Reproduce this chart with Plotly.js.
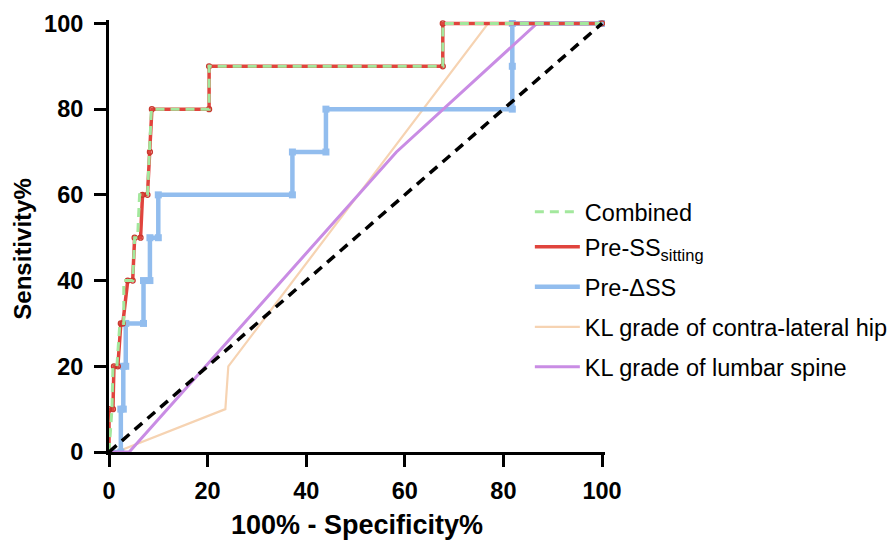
<!DOCTYPE html>
<html>
<head>
<meta charset="utf-8">
<script src="https://cdn.plot.ly/plotly-3.0.1.min.js"></script>
<style>
  html, body { margin: 0; padding: 0; background: #ffffff; }
  #chart { width: 892px; height: 543px; }
</style>
</head>
<body>
<div id="chart"></div>
<script>
// ROC curves: x = 100% - Specificity%, y = Sensitivity%
const combinedX = [0, 0.6, 0.8, 1.6, 2.2, 3.0, 3.0, 4.8, 5.2, 5.8, 6.2, 7.8, 8.2, 8.6, 20.3, 20.3, 67.7, 67.7, 100];
const combinedY = [0, 10, 20, 20, 30, 30, 40, 40, 50, 50, 60, 60, 70, 80, 80, 90, 90, 100, 100];

const sittingX = [0, 0, 0.8, 1.0, 1.8, 2.4, 2.8, 3.8, 4.8, 5.2, 6.4, 6.8, 7.8, 8.3, 8.7, 20.3, 20.3, 67.7, 67.7, 100];
const sittingY = [0, 10, 10, 20, 20, 30, 30, 40, 40, 50, 50, 60, 60, 70, 80, 80, 90, 90, 100, 100];

const deltaX = [0, 2.4, 2.4, 2.9, 2.9, 3.4, 3.4, 7.0, 7.0, 8.3, 8.3, 10.0, 10.0, 37.2, 37.2, 44.0, 44.0, 81.8, 81.8, 81.8, 100];
const deltaY = [0, 0, 10, 10, 20, 20, 30, 30, 40, 40, 50, 50, 60, 60, 70, 70, 80, 80, 90, 100, 100];

const hipX = [0, 1.5, 23.6, 24.2, 76.9, 100];
const hipY = [0, 0, 10, 20, 100, 100];

const lumbarX = [0, 4.1, 58.3, 86.8, 100];
const lumbarY = [0, 0, 70, 100, 100];

const refX = [0, 100];
const refY = [0, 100];

const tickVals = [0, 20, 40, 60, 80, 100];
const tickText = ['0', '20', '40', '60', '80', '100'];

const names = {
  combined: 'Combined',
  sitting: 'Pre-SS<sub>sitting</sub>',
  delta: 'Pre-\u0394SS',
  hip: 'KL grade of contra-lateral hip',
  lumbar: 'KL grade of lumbar spine'
};

const C = {
  combined: '#a3e89d',
  sitting: '#e0443d',
  delta: '#92bdee',
  hip: '#f6d3b2',
  lumbar: '#c98ce4'
};

const FONT = 'Liberation Sans, Arial, sans-serif';

const traces = [
  { x: hipX, y: hipY, name: names.hip, legend: 'legend4',
    mode: 'lines', line: { color: C.hip, width: 2.2 } },
  { x: deltaX, y: deltaY, name: names.delta, legend: 'legend3',
    mode: 'lines', line: { color: C.delta, width: 4.5 } },
  { x: deltaX, y: deltaY, showlegend: false, hoverinfo: 'skip',
    mode: 'markers', marker: { symbol: 'square', size: 7, color: C.delta } },
  { x: lumbarX, y: lumbarY, name: names.lumbar, legend: 'legend5',
    mode: 'lines', line: { color: C.lumbar, width: 3 } },
  { x: sittingX, y: sittingY, name: names.sitting, legend: 'legend2',
    mode: 'lines', line: { color: C.sitting, width: 3.5 } },
  { x: sittingX, y: sittingY, showlegend: false, hoverinfo: 'skip',
    mode: 'markers', marker: { symbol: 'circle-open', size: 5, color: '#c8392f', line: { width: 1.3 } } },
  { x: combinedX, y: combinedY, name: names.combined, legend: 'legend',
    mode: 'lines', line: { color: C.combined, width: 3, dash: '9px,6px' } },
  { x: refX, y: refY, showlegend: false, hoverinfo: 'skip',
    mode: 'lines', line: { color: '#000000', width: 3.5, dash: '10px,7px' } }
];

// one legend box per entry, stacked at fixed heights
function legendAt(centerPx) {
  return {
    xref: 'container', yref: 'container',
    x: 0.594, xanchor: 'left',
    y: 1 - centerPx / 543, yanchor: 'middle',
    bgcolor: 'rgba(0,0,0,0)',
    font: { family: FONT, size: 23.5, color: '#000000' },
    itemwidth: 45
  };
}

const axisFont = { family: FONT, size: 23.5, color: '#000000', weight: 'bold' };

const layout = {
  width: 892,
  height: 543,
  paper_bgcolor: '#ffffff',
  plot_bgcolor: '#ffffff',
  margin: { l: 109, r: 287, t: 20, b: 91, autoexpand: false },
  showlegend: true,
  legend: legendAt(212),
  legend2: legendAt(247),
  legend3: legendAt(287),
  legend4: legendAt(327),
  legend5: legendAt(367),
  annotations: [
    { text: 'Sensitivity%', textangle: -90, xref: 'paper', yref: 'paper',
      x: -0.174, y: 0.47, xanchor: 'center', yanchor: 'middle', showarrow: false,
      font: { family: FONT, size: 24, color: '#000000', weight: 'bold' } }
  ],
  xaxis: {
    range: [0, 100.6],
    tickvals: tickVals,
    ticktext: tickText,
    showgrid: false,
    zeroline: false,
    showline: true,
    linecolor: '#000000',
    linewidth: 3,
    ticks: 'outside',
    ticklen: 12,
    tickwidth: 3,
    tickcolor: '#000000',
    ticklabelstandoff: 4,
    tickfont: axisFont,
    automargin: false,
    title: { text: '100% - Specificity%', font: { family: FONT, size: 27, color: '#000000', weight: 'bold' }, standoff: 12 }
  },
  yaxis: {
    range: [0, 100.8],
    tickvals: tickVals,
    ticktext: tickText,
    showgrid: false,
    zeroline: false,
    showline: true,
    linecolor: '#000000',
    linewidth: 3,
    ticks: 'outside',
    ticklen: 12,
    tickwidth: 3,
    tickcolor: '#000000',
    ticklabelstandoff: 6,
    automargin: false,
    tickfont: axisFont
  }
};

Plotly.newPlot('chart', traces, layout, { displayModeBar: false, staticPlot: true });
</script>
</body>
</html>
